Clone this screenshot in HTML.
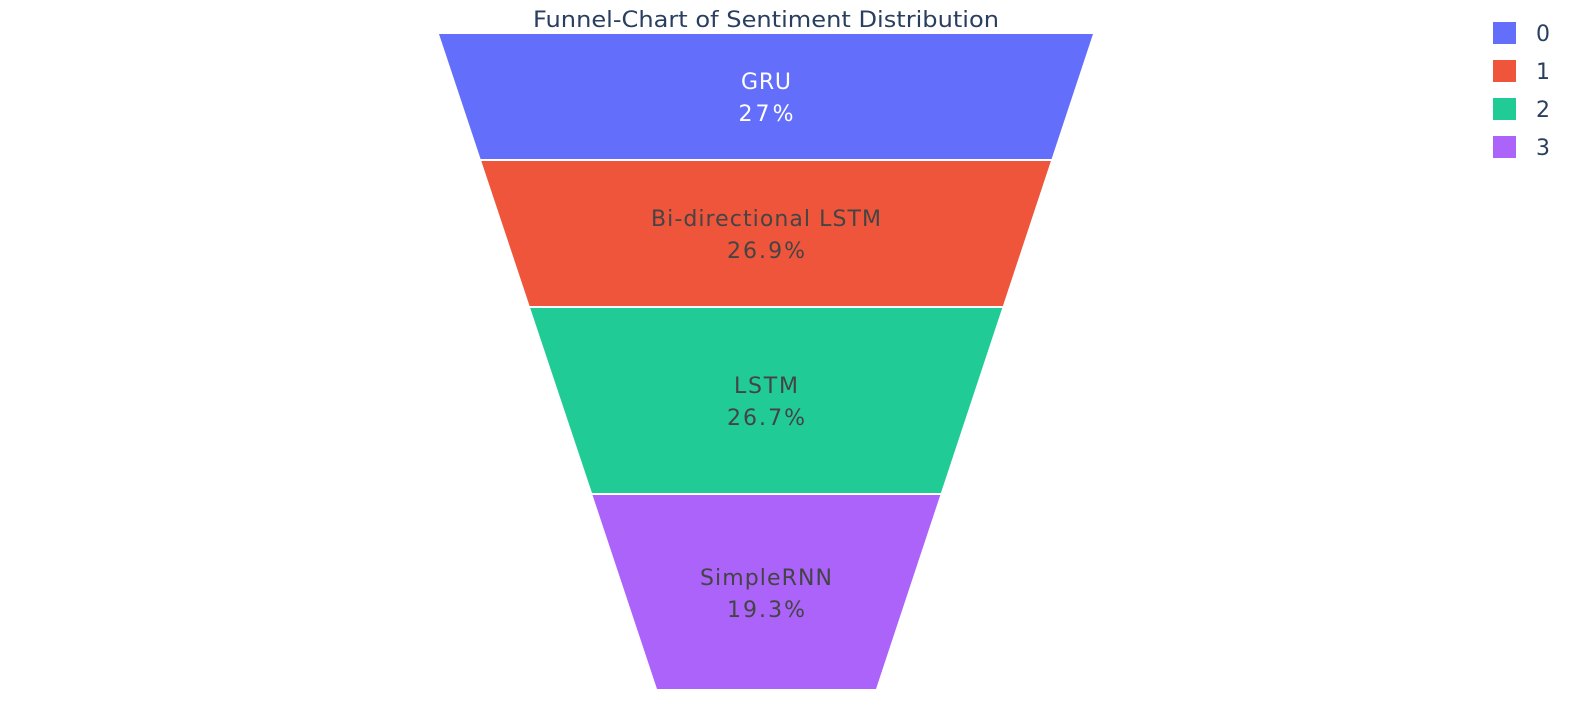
<!DOCTYPE html>
<html><head><style>body{margin:0;background:#fff}svg{display:block}text{font-family:"DejaVu Sans","Liberation Sans",sans-serif}</style></head>
<body>
<svg width="1578" height="704" viewBox="0 0 1578 704">
<text x="766" y="27" text-anchor="middle" font-size="22" fill="#2a3f5f" textLength="466" lengthAdjust="spacingAndGlyphs">Funnel-Chart of Sentiment Distribution</text>
<polygon points="439,34 1093,34 1051.6,159 480.6,159" fill="#636efa"/>
<polygon points="481.3,161 1050.9,161 1002.9,306 529.6,306" fill="#ef553b"/>
<polygon points="530.2,308 1002.2,308 940.9,493 592,493" fill="#21cb96"/>
<polygon points="592.5,495 940.3,495 876,689 657,689" fill="#ab63fa"/>
<g font-size="22" text-anchor="middle" lengthAdjust="spacingAndGlyphs">
<text x="766" y="89" fill="#fff" textLength="50">GRU</text><text x="766" y="121" fill="#fff" textLength="55">27%</text>
<text x="766" y="226" fill="#444" textLength="230">Bi-directional LSTM</text><text x="766" y="258" fill="#444" textLength="78">26.9%</text>
<text x="766" y="393" fill="#444" textLength="64">LSTM</text><text x="766" y="425" fill="#444" textLength="78">26.7%</text>
<text x="766" y="585" fill="#444" textLength="132">SimpleRNN</text><text x="766" y="617" fill="#444" textLength="78">19.3%</text>
</g>
<g font-size="22" fill="#2a3f5f">
<rect x="1493" y="22" width="23" height="22" fill="#636efa"/><text x="1536" y="41">0</text>
<rect x="1493" y="60" width="23" height="22" fill="#ef553b"/><text x="1536" y="79">1</text>
<rect x="1493" y="98" width="23" height="22" fill="#21cb96"/><text x="1536" y="117">2</text>
<rect x="1493" y="136" width="23" height="22" fill="#ab63fa"/><text x="1536" y="155">3</text>
</g>
</svg>
</body></html>
